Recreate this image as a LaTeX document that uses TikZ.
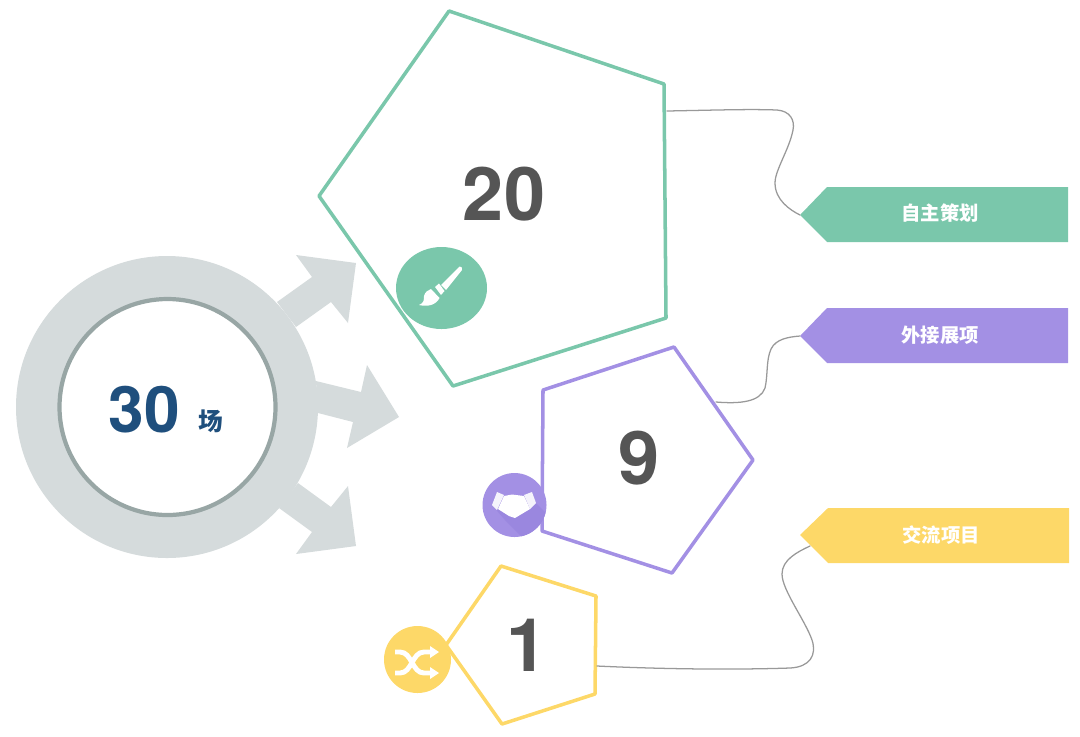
\documentclass[tikz,border=0pt]{standalone}
\usepackage{fontspec}
\setmainfont{TeX Gyre Heros}
\newfontfamily\cjk{Noto Sans CJK SC}
\usepackage{pgf,tikz}
\usetikzlibrary{arrows}
\definecolor{greenc}{HTML}{7AC7AB}
\definecolor{purplec}{HTML}{A390E4}
\definecolor{purpled}{HTML}{9A87DF}
\definecolor{yellowc}{HTML}{FDD868}
\definecolor{ringc}{HTML}{D5DBDC}
\definecolor{ringd}{HTML}{98A6A5}
\definecolor{bluec}{HTML}{1F4F7D}
\definecolor{numc}{HTML}{555555}
\tikzset{
  bignum/.style={text=numc,font=\fontsize{21}{24}\selectfont\bfseries,inner sep=0pt},
  tagtext/.style={text=white,font=\cjk\fontsize{5.5}{6}\selectfont\bfseries,inner sep=0pt},
  penta/.style={line width=1pt},
  wire/.style={draw=black!40,line width=0.36pt},
  icon/.style={white,line width=1.4pt}
}
\begin{document}
\begin{tikzpicture}[line cap=round,line join=round,>=triangle 45,x=0.01cm,y=-0.01cm]
\useasboundingbox (0,0) rectangle (1080,736);
% ring and arrows
\fill[ringc] (296,327) -- (331,302) -- (348,323) -- (356,263) -- (296,255) -- (312,277) -- (277,302) -- cycle;
\fill[ringc] (316,381) -- (361,392) -- (367,365) -- (399,417) -- (347,448) -- (353,422) -- (318,413) -- cycle;
\fill[ringc] (298,483) -- (331,507) -- (348,486) -- (356,546) -- (296,554) -- (312,532) -- (279,508) -- cycle;
\fill[ringc] (167,407) circle (151);
\draw[ringd,fill=white,line width=1.2pt] (167.5,407) circle (108);
\draw (144,410) node (total) [text=bluec,font=\fontsize{18.2}{20}\selectfont\bfseries] {30};
\draw (211,421) node (unit) [text=bluec,font=\cjk\fontsize{7}{8}\selectfont\bfseries] {场};
% pentagons
\draw[penta,greenc] (449,11) -- (664,84) -- (666,318) -- (453,386) -- (319,196) -- cycle;
\draw[penta,purplec] (543,390) -- (674,347) -- (753,460) -- (672,573) -- (542,531) -- cycle;
\draw[penta,yellowc] (501,566) -- (596,596) -- (595,694) -- (502,724) -- (446,645) -- cycle;
\draw (504,194) node (numa) [bignum] {20};
\draw (639,458) node (numb) [bignum] {9};
\draw (527,645) node (numc) [bignum] {1};
% tags
\fill[greenc] (800,215) -- (827,187) -- (1068,187) -- (1068,242) -- (827,242) -- cycle;
\fill[purplec] (800,336) -- (827,308) -- (1068,308) -- (1068,363) -- (827,363) -- cycle;
\fill[yellowc] (800,535) -- (828,508) -- (1069,508) -- (1069,563) -- (828,563) -- cycle;
\draw (940,213) node (taga) [tagtext] {自主策划};
\draw (940,335) node (tagb) [tagtext] {外接展项};
\draw (941,535) node (tagc) [tagtext] {交流项目};
% connectors
\coordinate (outa) at (667,111);
\coordinate (ina) at (800,215);
\coordinate (outb) at (716,402);
\coordinate (inb) at (800,336);
\coordinate (outc) at (597,666);
\coordinate (inc) at (810,546);
\draw[wire] (outa) .. controls (720,110) and (750,109) .. (777,110) .. controls (790,111) and (795,120) .. (793,130) .. controls (789,150) and (775,170) .. (775,183) .. controls (775,200) and (790,210) .. (ina);
\draw[wire] (outb) .. controls (740,404) and (760,402) .. (765,388) .. controls (768,375) and (766,360) .. (771,349) .. controls (776,339) and (788,337) .. (inb);
\draw[wire] (outc) .. controls (660,669) and (730,670) .. (790,668) .. controls (810,667) and (817,655) .. (812,640) .. controls (805,620) and (782,590) .. (782,574) .. controls (782,560) and (797,552) .. (inc);
% brush icon
\fill[greenc] (441.5,288) ellipse (45.5 and 41);
\fill[white] (459.5,266.5) .. controls (461,266) and (463,268) .. (462,270) -- (446,290) -- (441,285) -- cycle;
\fill[white] (435,287) -- (439,283.5) -- (444.5,291) -- (441,295) -- cycle;
\fill[white] (431,289) -- (439.5,298) .. controls (436,305) and (428,307) .. (419,305) .. controls (424,303) and (424,300) .. (424,296) .. controls (425,292) and (428,290) .. (431,289) -- cycle;
% handshake icon
\fill[purplec] (514.5,505) circle (32);
\begin{scope}
\clip (514.5,505) circle (32);
\fill[purpled] (532,492) -- (536,503) -- (560,527) -- (530,545) -- (505,520) -- (492,505) -- (515,510) -- cycle;
\end{scope}
\fill[white,opacity=0.9] (497,492) -- (492,505) -- (497,510) -- (504,495) -- cycle;
\fill[white,opacity=0.9] (524,495) -- (532,492) -- (536,503) -- (530,509) -- cycle;
\fill[white] (504,496) -- (512,494.5) -- (524,496) -- (530,509) -- (515,518) -- (509,516) -- (498,509) -- cycle;
% shuffle icon
\fill[yellowc] (417.5,659.5) circle (33.5);
\draw[icon,line cap=butt] (395,652) -- (400,652) .. controls (412,652) and (412,673) .. (424,673) -- (430,673);
\draw[icon,line cap=butt] (395,673) -- (400,673) .. controls (412,673) and (412,652) .. (424,652) -- (430,652);
\fill[white] (430,646) -- (439,652) -- (430,658) -- cycle;
\fill[white] (430,667) -- (439,673) -- (430,679) -- cycle;
\end{tikzpicture}
\end{document}
